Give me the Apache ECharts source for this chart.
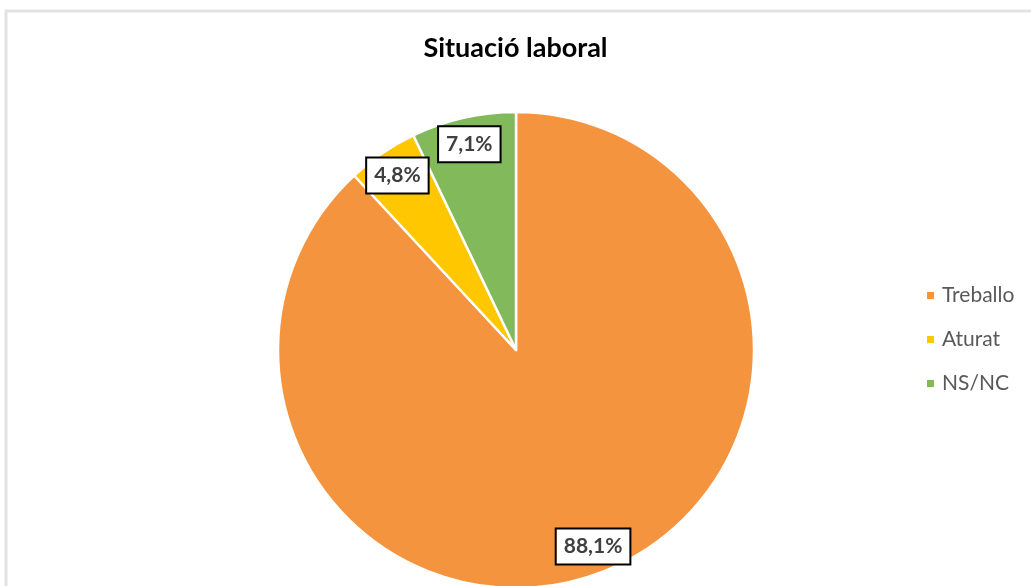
<!DOCTYPE html>
<html>
<head>
<meta charset="utf-8">
<script src="https://cdn.jsdelivr.net/npm/echarts@6/dist/echarts.min.js"></script>
<style>
html,body{margin:0;padding:0;background:#fff;}
#chart{width:1031px;height:586px;}
</style>
</head>
<body>
<div id="chart"></div>
<script>
const categories = ['Treballo', 'Aturat', 'NS/NC'];
const values = [88.1, 4.8, 7.1];
const colors = ['#F5943F', '#FFC700', '#82B95B'];
const titleText = 'Situació laboral';

const data = categories.map((c, i) => ({ name: c, value: values[i], itemStyle: { color: colors[i] } }));
const fmt = p => p.value.toFixed(1).replace('.', ',') + '%';

const chart = echarts.init(document.getElementById('chart'), null, { renderer: 'canvas' });
chart.setOption({
  animation: false,
  backgroundColor: '#fff',
  graphic: [{
    type: 'polyline',
    shape: { points: [[6, 586], [6, 11], [1031, 11]] },
    style: { stroke: '#e3e3e3', lineWidth: 3, fill: null },
    silent: true
  }],
  title: {
    text: titleText,
    left: 'center',
    top: 30,
    textStyle: { fontFamily: 'Lato, "Open Sans", sans-serif', fontWeight: 'bold', fontSize: 27, color: '#000' }
  },
  legend: {
    orient: 'vertical',
    left: 920,
    top: 280,
    itemWidth: 9,
    itemHeight: 9,
    itemGap: 23,
    icon: 'rect',
    data: categories,
    textStyle: { fontFamily: 'Lato, "Open Sans", sans-serif', fontSize: 21, color: '#595959', padding: [0, 0, 0, 2] }
  },
  series: [{
    type: 'pie',
    center: [516, 350],
    radius: [0, 238],
    startAngle: 90,
    clockwise: true,
    data: data,
    label: { show: false },
    labelLine: { show: false },
    itemStyle: { borderColor: '#fff', borderWidth: 2.5 },
    emphasis: { disabled: true }
  }, {
    type: 'pie',
    center: [516, 350],
    radius: [178, 238],
    startAngle: 90,
    clockwise: true,
    silent: true,
    legendHoverLink: false,
    data: data.map(d => ({ name: d.name, value: d.value, itemStyle: { color: 'rgba(0,0,0,0)' } })),
    itemStyle: { borderWidth: 0 },
    labelLine: { show: false },
    label: {
      show: true,
      position: 'inside',
      formatter: fmt,
      fontFamily: 'Lato, "Open Sans", sans-serif',
      fontWeight: 'bold',
      fontSize: 21,
      color: '#404040',
      backgroundColor: '#fff',
      borderColor: '#000',
      borderWidth: 2,
      padding: [7, 7, 6, 7]
    },
    emphasis: { disabled: true }
  }]
});
</script>
</body>
</html>
